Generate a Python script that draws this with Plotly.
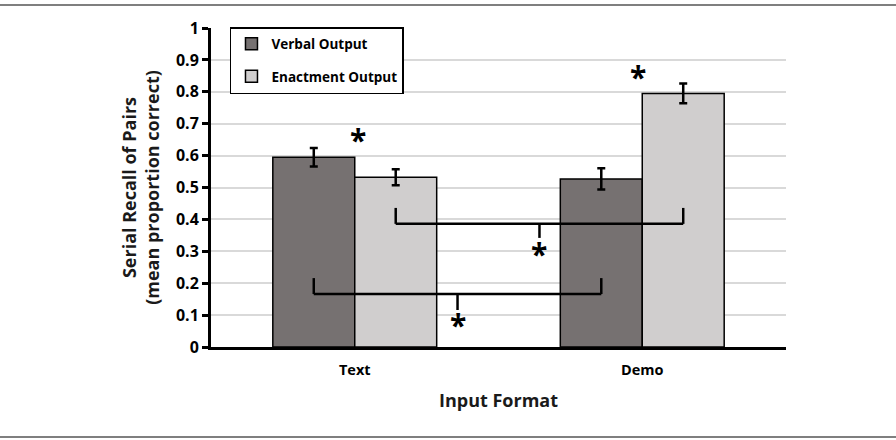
import plotly.graph_objects as go

categories = ["Text", "Demo"]
verbal = [0.595, 0.527]
verbal_err = [0.029, 0.033]
enact = [0.532, 0.795]
enact_err = [0.025, 0.031]

# significance brackets: (x start, x end, bar y, leg top, tick bottom, star y)
br_x0 = [-0.1425, 0.1425]
br_x1 = [0.8575, 1.1425]
br_y = [0.166, 0.386]
br_top = [0.216, 0.436]
br_tick = [0.116, 0.342]
br_star = [0.069, 0.294]

# stars above groups
star_x = [0.01, 0.985]
star_y = [0.649, 0.847]

FONT = "Open Sans"

fig = go.Figure()
fig.add_trace(go.Bar(
    x=categories, y=verbal, name="Verbal Output", legendgroup="a",
    marker=dict(color="#767171", line=dict(color="black", width=1.5)),
    error_y=dict(type="data", array=verbal_err, color="black", thickness=2.5, width=4),
))
fig.add_trace(go.Bar(
    x=categories, y=enact, name="Enactment Output", legendgroup="b",
    marker=dict(color="#d0cece", line=dict(color="black", width=1.5)),
    error_y=dict(type="data", array=enact_err, color="black", thickness=2.5, width=4),
))

shapes = []
for i in range(len(br_y)):
    mid = (br_x0[i] + br_x1[i]) / 2
    shapes.append(dict(type="line", x0=br_x0[i], x1=br_x1[i], y0=br_y[i], y1=br_y[i],
                       xref="x", yref="y", line=dict(color="black", width=2.5)))
    shapes.append(dict(type="line", x0=br_x0[i], x1=br_x0[i], y0=br_y[i], y1=br_top[i],
                       xref="x", yref="y", line=dict(color="black", width=2.5)))
    shapes.append(dict(type="line", x0=br_x1[i], x1=br_x1[i], y0=br_y[i], y1=br_top[i],
                       xref="x", yref="y", line=dict(color="black", width=2.5)))
    shapes.append(dict(type="line", x0=mid, x1=mid, y0=br_y[i], y1=br_tick[i],
                       xref="x", yref="y", line=dict(color="black", width=2.5)))
    fig.add_annotation(x=mid, y=br_star[i], xref="x", yref="y", text="<b>*</b>",
                       showarrow=False, font=dict(family=FONT, size=30, color="black"),
                       yanchor="middle")
for i in range(len(star_x)):
    fig.add_annotation(x=star_x[i], y=star_y[i], xref="x", yref="y", text="<b>*</b>",
                       showarrow=False, font=dict(family=FONT, size=30, color="black"),
                       yanchor="middle")

# outer frame lines
shapes.append(dict(type="line", xref="paper", yref="paper", x0=-0.4, x1=1.3,
                   y0=1.072, y1=1.072, line=dict(color="#7f7f7f", width=2)))
shapes.append(dict(type="line", xref="paper", yref="paper", x0=-0.4, x1=1.3,
                   y0=-0.282, y1=-0.282, line=dict(color="#7f7f7f", width=2)))

fig.update_layout(
    width=896, height=440,
    margin=dict(l=211, r=110, t=28, b=93),
    paper_bgcolor="white", plot_bgcolor="white",
    barmode="group", bargap=0.43, bargroupgap=0,
    font=dict(family=FONT, color="#1a1a1a"),
    shapes=shapes,
    showlegend=True,
    legend=dict(x=0.033, y=1.003, xanchor="left", yanchor="top",
                bordercolor="black", borderwidth=1.5, bgcolor="white",
                font=dict(family=FONT, size=13.5, color="black", weight="bold"),
                traceorder="grouped", tracegroupgap=12),
    xaxis=dict(showline=True, linecolor="black", linewidth=3, ticks="",
               tickfont=dict(family=FONT, size=14.5, color="black", weight="bold"),
               ticklabelstandoff=8,
               title=dict(text="Input Format", font=dict(family=FONT, size=18, color="#1a1a1a", weight="bold"),
                          standoff=16)),
    yaxis=dict(range=[0, 1], dtick=0.1, showline=True, linecolor="black", linewidth=3,
               ticks="outside", ticklen=6, tickwidth=2.5, tickcolor="black",
               showgrid=True, gridcolor="#d9d9d9", gridwidth=2, zeroline=False,
               tickfont=dict(family=FONT, size=16, color="black", weight="bold"),
               title=dict(text="Serial Recall of Pairs<br>(mean proportion correct)",
                          font=dict(family=FONT, size=18, color="#1a1a1a", weight="bold"),
                          standoff=12)),
)

fig.write_html("out.html")
